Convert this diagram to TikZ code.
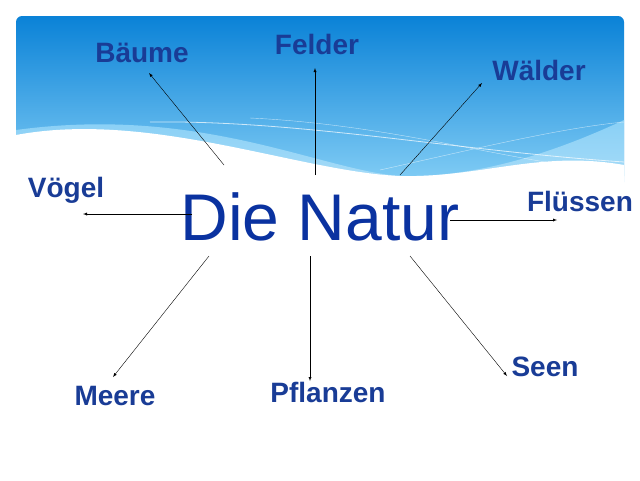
\documentclass[tikz,border=0pt]{standalone}
\usepackage{fontspec}
\setmainfont{Liberation Sans}
\begin{document}
\begin{tikzpicture}[x=1pt,y=-1pt,
  lbl/.style={font=\bfseries\fontsize{28}{32}\selectfont,text=labblue,inner sep=0},
  arr/.style={-latex,thin,black}]
\definecolor{labblue}{RGB}{25,60,150}
\definecolor{titleblue}{RGB}{10,50,160}
\definecolor{topblue}{RGB}{10,130,215}
\definecolor{lowblue}{RGB}{130,205,245}
\useasboundingbox (0,0) rectangle (640,480);
\fill[white] (0,0) rectangle (640,480);
% sky band
\shade[top color=topblue,bottom color=lowblue,rounded corners=6pt]
  (16,182) -- (16,16) -- (624,16) -- (624,182) -- cycle;
\shade[top color=lowblue,bottom color=lowblue!70!white]
  (16,130) .. controls (200,105) and (320,170) .. (400,176)
  .. controls (480,178) and (560,150) .. (624,120) -- (624,182) -- (16,182) -- cycle;
\fill[white] (16,135) .. controls (150,110) and (300,172) .. (400,176)
  .. controls (480,178) and (540,150) .. (624,165) -- (624,185) -- (16,185) -- cycle;
\draw[white,opacity=0.7,thick] (150,122) .. controls (300,120) and (450,150) .. (624,162);
\draw[white,opacity=0.6] (250,118) .. controls (400,125) and (520,165) .. (624,172);
\draw[white,opacity=0.6] (380,170) .. controls (470,150) and (560,128) .. (624,122);
% title
\node[inner sep=0,font=\fontsize{66}{74}\selectfont,text=titleblue] (t) at (320,217) {Die Natur};
% labels
\node[lbl] (baeume) at (142,53) {Bäume};
\node[lbl] (felder) at (317,44) {Felder};
\node[lbl] (waelder) at (539,70) {Wälder};
\node[lbl] (voegel) at (66,190) {Vögel};
\node[lbl] (fluessen) at (580,201) {Flüssen};
\node[lbl] (meere) at (115,396) {Meere};
\node[lbl] (pflanzen) at (328,392) {Pflanzen};
\node[lbl] (seen) at (545,367) {Seen};
% coordinates
\coordinate (a1) at (224,165); \coordinate (b1) at (149,73);
\coordinate (a2) at (315,175); \coordinate (b2) at (315,68);
\coordinate (a3) at (400,175); \coordinate (b3) at (482,83);
\coordinate (a4) at (192,214); \coordinate (b4) at (83,214);
\coordinate (a5) at (450,220); \coordinate (b5) at (557,220);
\coordinate (a6) at (209,256); \coordinate (b6) at (113,377);
\coordinate (a7) at (310,256); \coordinate (b7) at (310,381);
\coordinate (a8) at (410,256); \coordinate (b8) at (507,376);
\foreach \i in {1,...,8} \draw[arr] (a\i) -- (b\i);
\end{tikzpicture}
\end{document}
